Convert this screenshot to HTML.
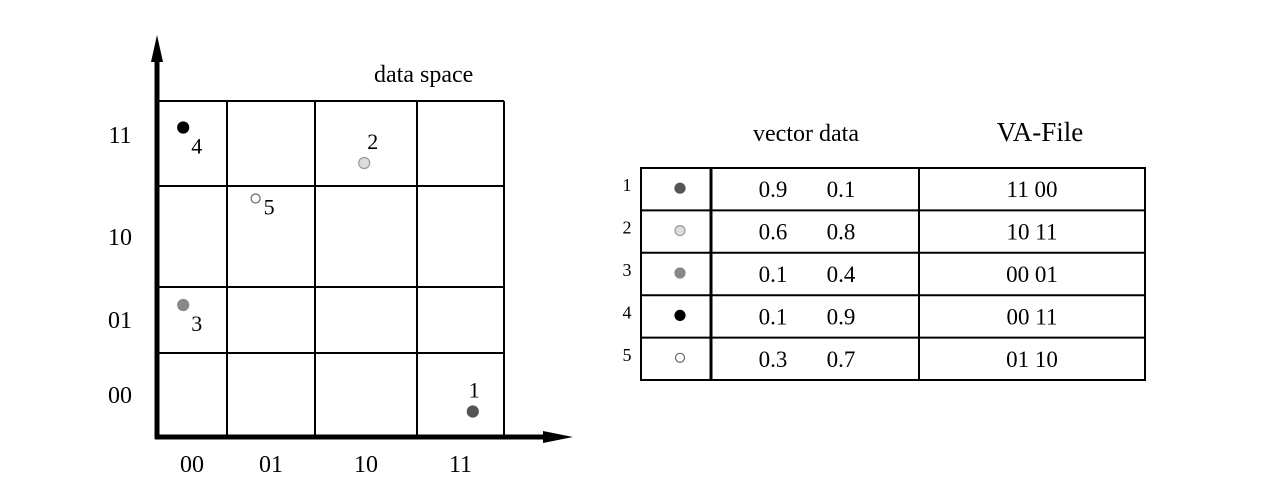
<!DOCTYPE html>
<html><head><meta charset="utf-8"><style>
body{margin:0;background:#fff;}
svg text{font-family:"Liberation Serif",serif;fill:#000;}
</style></head><body>
<svg width="1269" height="498" viewBox="0 0 1269 498">
<g id="plot"></g>
<g id="table"></g>
</svg>
<script>
const ns="http://www.w3.org/2000/svg";
const colEdges=[157,227,315,417,504];
const rowEdges=[437,353,287,186,101];
const codes=["00","01","10","11"];
const pointIds=[1,2,3,4,5];
const pointX=[0.9,0.6,0.1,0.1,0.3];
const pointY=[0.1,0.8,0.4,0.9,0.7];
const pointFill=["#555","#ddd","#888","#000","#fff"];
const pointStroke=["#555","#999","#888","#000","#666"];
const vaCodes=["11 00","10 11","00 01","00 11","01 10"];
function el(t,a,p,txt){const e=document.createElementNS(ns,t);for(const k in a)e.setAttribute(k,a[k]);if(txt!==undefined)e.textContent=txt;p.appendChild(e);return e;}
function sx(v){return 147+v*362;}
function sy(v){return 447-v*355;}
const P=document.getElementById('plot');
for(let i=1;i<colEdges.length;i++){const l=el('line',{x1:colEdges[i],y1:101,x2:colEdges[i],y2:437,stroke:'#000','stroke-width':2},P);

}
for(let i=1;i<rowEdges.length;i++){const l=el('line',{x1:157,y1:rowEdges[i],x2:504,y2:rowEdges[i],stroke:'#000','stroke-width':2},P);

}
let a=el('line',{x1:157,y1:439,x2:157,y2:50,stroke:'#000','stroke-width':5},P);

a=el('polygon',{points:'157,35 151,62 163,62'},P);

a=el('line',{x1:155,y1:437,x2:550,y2:437,stroke:'#000','stroke-width':5},P);

a=el('polygon',{points:'573,437 543,431 543,443'},P);

a=el('text',{x:374,y:82,'font-size':24},P,'data space');

for(let i=0;i<4;i++){
 const cx=(colEdges[i]+colEdges[i+1])/2;
 let t=el('text',{x:cx,y:472,'font-size':24,'text-anchor':'middle'},P,codes[i]);
 
 t=el('text',{x:120,y:[403,328,245,143][i],'font-size':24,'text-anchor':'middle'},P,codes[i]);
 
}
const lblOff=[[-4,-14],[3,-14],[8,26],[8,26],[8,16]];
for(let i=0;i<pointIds.length;i++){
 const x=sx(pointX[i]),y=sy(pointY[i]);
 const r=i===4?4.5:5.5;
 const c=el('circle',{cx:x,cy:y,r:r,fill:pointFill[i],stroke:pointStroke[i],'stroke-width':1.2},P);
 
 
 const t=el('text',{x:x+lblOff[i][0],y:y+lblOff[i][1],'font-size':22},P,pointIds[i]);
 
 
}
const T=document.getElementById('table');
const tl=641,tr=1145,c1=711,c2=919,tt=168,rh=42.4;
let h=el('text',{x:806,y:141,'font-size':24,'text-anchor':'middle'},T,'vector data');

h=el('text',{x:1040,y:141,'font-size':27,'text-anchor':'middle'},T,'VA-File');

const tb=tt+rh*pointIds.length;
el('rect',{x:tl,y:tt,width:tr-tl,height:tb-tt,fill:'none',stroke:'#000','stroke-width':2},T);
el('line',{x1:c1,y1:tt,x2:c1,y2:tb,stroke:'#000','stroke-width':3},T);
el('line',{x1:c2,y1:tt,x2:c2,y2:tb,stroke:'#000','stroke-width':2},T);
for(let i=0;i<pointIds.length;i++){
 const y0=tt+rh*i, cy=y0+rh/2;
 if(i>0)el('line',{x1:tl,y1:y0,x2:tr,y2:y0,stroke:'#000','stroke-width':2},T);
 let t=el('text',{x:627,y:cy+2,'font-size':18,'text-anchor':'middle'},T,pointIds[i]);
 
 const c=el('circle',{cx:680,cy:cy-1,r:i===4?4.5:5,fill:pointFill[i],stroke:pointStroke[i],'stroke-width':1.2},T);
 
 t=el('text',{x:773,y:cy+8,'font-size':23,'text-anchor':'middle'},T,pointX[i].toFixed(1));
 
 t=el('text',{x:841,y:cy+8,'font-size':23,'text-anchor':'middle'},T,pointY[i].toFixed(1));
 
 t=el('text',{x:1032,y:cy+8,'font-size':23,'text-anchor':'middle'},T,vaCodes[i]);
 
}
</script>
</body></html>
